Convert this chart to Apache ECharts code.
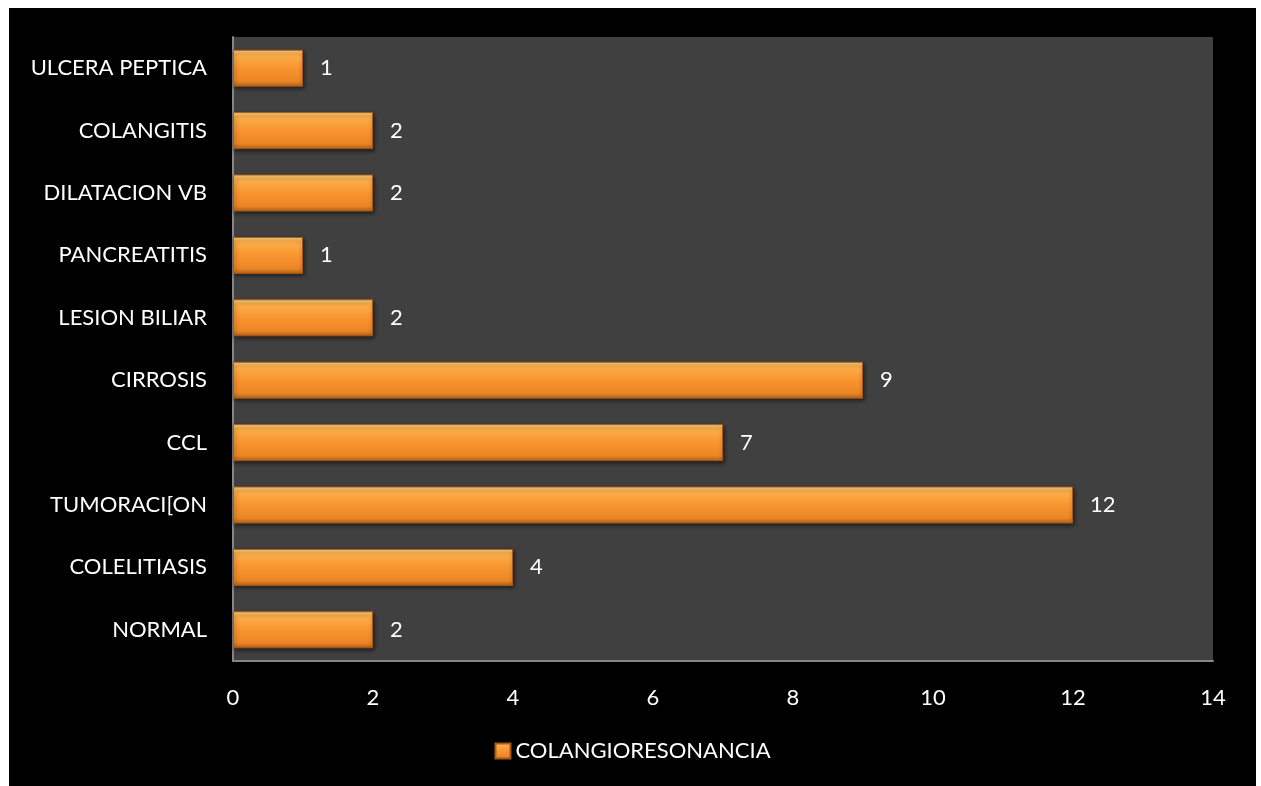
<!DOCTYPE html>
<html>
<head>
<meta charset="utf-8">
<script src="https://cdn.jsdelivr.net/npm/echarts@6/dist/echarts.min.js"></script>
<style>
  html, body { margin: 0; padding: 0; background: #fff; }
  #chart { position: absolute; left: 9px; top: 8px; width: 1247px; height: 778px; background: #000; }
</style>
</head>
<body>
<div id="chart"></div>
<script>
/* ---------- data ---------- */
const categories = [
  "NORMAL", "COLELITIASIS", "TUMORACI[ON", "CCL", "CIRROSIS",
  "LESION BILIAR", "PANCREATITIS", "DILATACION VB", "COLANGITIS", "ULCERA PEPTICA"
];
const values = [2, 4, 12, 7, 9, 2, 1, 2, 2, 1];
const seriesName = "COLANGIORESONANCIA";

const FONT = "Lato, 'Open Sans', sans-serif";

/* ---------- chart ---------- */
const chart = echarts.init(document.getElementById("chart"), null, { renderer: "canvas" });

const barFill = new echarts.graphic.LinearGradient(0, 0, 0, 1, [
  { offset: 0, color: "#ffdf8c" },
  { offset: 0.12, color: "#fcb04c" },
  { offset: 0.5, color: "#f8952f" },
  { offset: 0.85, color: "#ec8626" },
  { offset: 1, color: "#b46418" },
]);

chart.setOption({
  backgroundColor: "#000",
  animation: false,
  grid: { left: 224, right: 43, top: 29, bottom: 125, backgroundColor: "#404040", show: true, borderWidth: 0 },
  legend: {
    bottom: 19,
    left: "center",
    itemWidth: 15,
    itemHeight: 15,
    itemGap: 6,
    icon: "rect",
    textStyle: { color: "#fff", fontSize: 22, fontFamily: FONT },
    data: [seriesName],
  },
  xAxis: {
    type: "value",
    min: 0,
    max: 14,
    interval: 2,
    axisLine: { show: true, lineStyle: { color: "#868686", width: 2 } },
    axisTick: { show: false },
    splitLine: { show: false },
    axisLabel: { color: "#fff", fontSize: 22, fontFamily: FONT, margin: 26 },
  },
  yAxis: {
    type: "category",
    data: categories,
    axisLine: { show: true, lineStyle: { color: "#868686", width: 2 } },
    axisTick: { show: false },
    axisLabel: { color: "#fff", fontSize: 22, fontFamily: FONT, margin: 26 },
  },
  series: [
    {
      name: seriesName,
      type: "bar",
      data: values,
      barWidth: 37,
      itemStyle: {
        color: barFill,
        borderColor: "#a8591a",
        borderWidth: 1,
        shadowColor: "rgba(0,0,0,0.55)",
        shadowBlur: 4,
        shadowOffsetX: 1,
        shadowOffsetY: 2,
      },
      label: {
        show: true,
        position: "right",
        distance: 17,
        color: "#fff",
        fontSize: 22,
        fontFamily: FONT,
      },
    },
  ],
});
</script>
</body>
</html>
